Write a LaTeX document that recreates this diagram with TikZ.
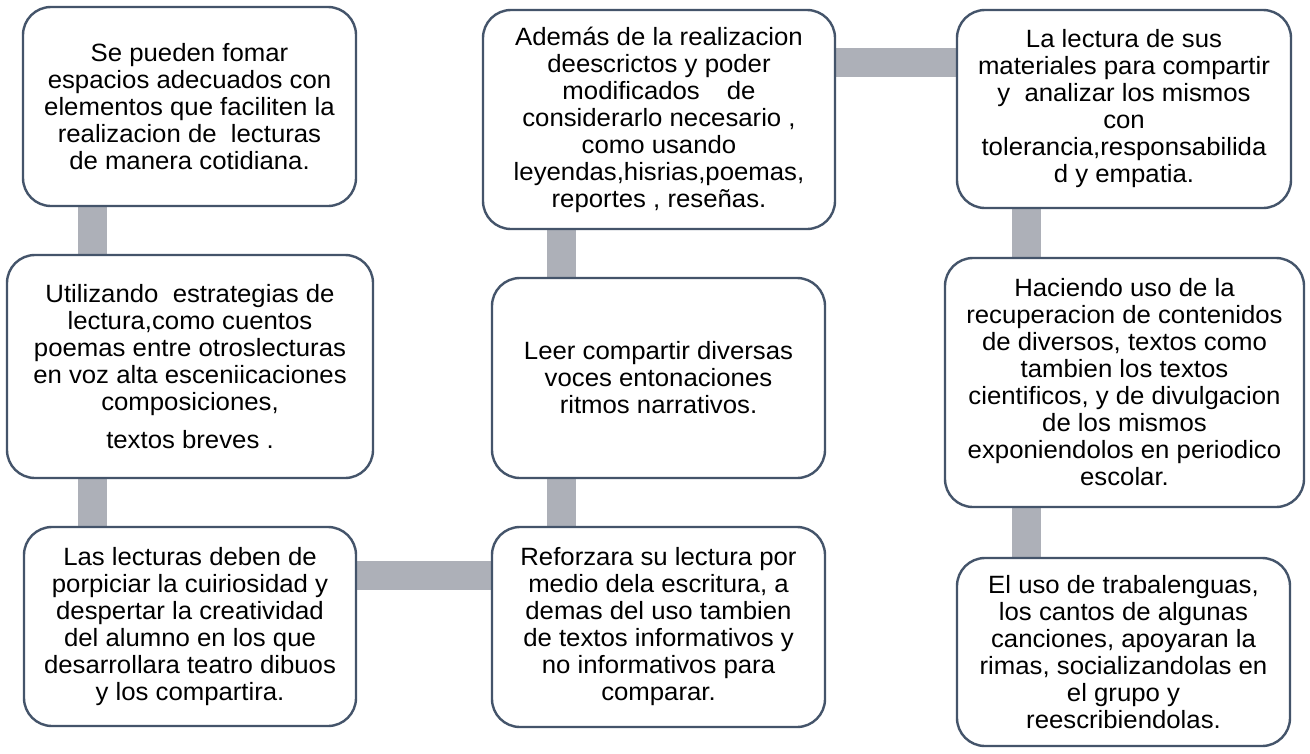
\documentclass[tikz,border=0pt]{standalone}
\usepackage{fontspec}
\setmainfont{Liberation Sans}[FakeStretch=1.03]
\usetikzlibrary{backgrounds}
\definecolor{borde}{HTML}{44546A}
\definecolor{gris}{HTML}{ADB0B8}
\tikzset{font=\fontsize{25}{27}\selectfont,
caja/.style={draw=borde,line width=2.4pt,fill=white,rounded corners=28pt,align=center,inner sep=0pt},
barra/.style={draw=gris,line width=29pt}}

\begin{document}
\begin{tikzpicture}[x=1pt,y=-1pt]
\useasboundingbox (0,0) rectangle (1310,753);
% columna izquierda
\node[caja,minimum width=333pt,minimum height=199pt] (A) at (189.5,106.5)
 {Se pueden fomar\\espacios adecuados con\\elementos que faciliten la\\realizacion de\ \ lecturas\\de manera cotidiana.};
\node[caja,minimum width=366pt,minimum height=223pt] (B) at (190,366.5)
 {Utilizando\ \ estrategias de\\lectura,como cuentos\\poemas entre otroslecturas\\en voz alta esceniicaciones\\composiciones,\\[11pt]textos breves .};
\node[caja,minimum width=332pt,minimum height=199pt] (C) at (190,626.5)
 {Las lecturas deben de\\porpiciar la cuiriosidad y\\despertar la creatividad\\del alumno en los que\\desarrollara teatro dibuos\\y los compartira.};
% columna central
\node[caja,minimum width=352pt,minimum height=219pt] (D) at (659,119.5)
 {Además de la realizacion\\deescrictos y poder\\modificados\hspace{27pt}de\\considerarlo necesario ,\\como usando\\leyendas,hisrias,poemas,\\reportes , reseñas.};
\node[caja,minimum width=333pt,minimum height=200pt] (E) at (658.5,378)
 {Leer compartir diversas\\voces entonaciones\\ritmos narrativos.};
\node[caja,minimum width=333pt,minimum height=200pt] (F) at (658.5,627)
 {Reforzara su lectura por\\medio dela escritura, a\\demas del uso tambien\\de textos informativos y\\no informativos para\\comparar.};
% columna derecha
\node[caja,minimum width=334pt,minimum height=198pt] (G) at (1124,109)
 {La lectura de sus\\materiales para compartir\\y\ \ analizar los mismos\\con\\tolerancia,responsabilida\\d y empatia.};
\node[caja,minimum width=359pt,minimum height=249pt] (H) at (1124.5,382.5)
 {Haciendo uso de la\\recuperacion de contenidos\\de diversos, textos como\\tambien los textos\\cientificos, y de divulgacion\\de los mismos\\exponiendolos en periodico\\escolar.};
\node[caja,minimum width=333pt,minimum height=188pt] (I) at (1123.5,652)
 {El uso de trabalenguas,\\los cantos de algunas\\canciones, apoyaran la\\rimas, socializandolas en\\el grupo y\\reescribiendolas.};

\begin{scope}[on background layer]
\fill[white] (0,0) rectangle (1310,753);
\draw[barra] (A.south -| 92,0) -- (B.north -| 92,0);
\draw[barra] (B.south -| 92,0) -- (C.north -| 92,0);
\draw[barra] (C.east |- 0,575) -- (F.west |- 0,575);
\draw[barra] (F.north -| 561,0) -- (E.south -| 561,0);
\draw[barra] (E.north -| 561,0) -- (D.south -| 561,0);
\draw[barra] (D.east |- 0,62) -- (G.west |- 0,62);
\draw[barra] (G.south -| 1026,0) -- (H.north -| 1026,0);
\draw[barra] (H.south -| 1026,0) -- (I.north -| 1026,0);
\end{scope}
\end{tikzpicture}
\end{document}
